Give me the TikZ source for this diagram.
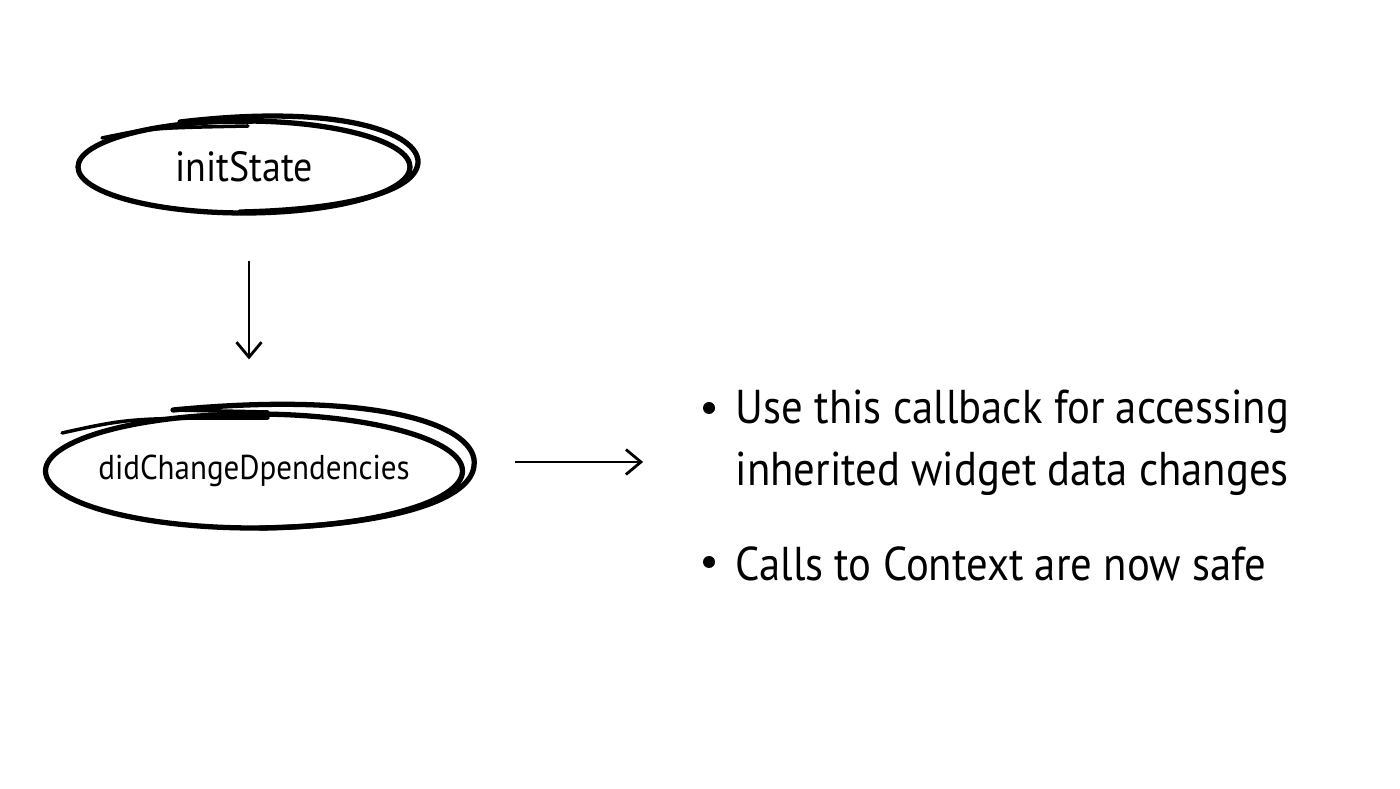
\documentclass[tikz,border=0pt]{standalone}
\usepackage{fontspec}
\setmainfont{PT Sans}[FakeStretch=0.9]
\usetikzlibrary{shapes.geometric,arrows.meta,positioning}

\tikzset{
    sketch/.style={line width=1.5pt, line cap=round},
    phase/.style={ellipse, draw, sketch, inner sep=0pt, label={[font=\fontsize{12}{14}\selectfont]center:#1}},
    flow/.style={line width=0.6pt, -{Straight Barb[length=1.5mm, width=2.5mm, line width=0.8pt]}},
    note/.style={anchor=base west, inner sep=0pt, font=\fontsize{13.5}{16}\selectfont}
}

\begin{document}
\begin{tikzpicture}
    \useasboundingbox (0, 0) rectangle (14, 7.88);

    % phases
    \node[phase=initState, minimum width=3.32cm, minimum height=0.92cm] (init) at (2.44, 6.21) {};
    \node[phase={\fontsize{9.8}{12}\selectfont didChangeDpendencies}, minimum width=4.17cm, minimum height=1.14cm] (deps) at (2.54, 3.17) {};

    % extra pen strokes
    \draw[sketch] (1.80, 6.66) .. controls (3.40, 6.85) and (4.20, 6.55) .. (4.18, 6.25)
        .. controls (4.15, 5.95) and (3.40, 5.78) .. (2.40, 5.76);
    \draw[sketch, line width=1pt] (1.80, 6.66) -- (2.52, 6.66);
    \draw[sketch, line width=1pt] (1.02, 6.50) .. controls (1.50, 6.60) .. (2.48, 6.62);
    \draw[sketch] (1.73, 3.78) .. controls (3.80, 3.98) and (4.80, 3.62) .. (4.74, 3.22)
        .. controls (4.70, 2.85) and (3.80, 2.62) .. (2.60, 2.60);
    \draw[sketch, line width=1pt] (1.73, 3.78) -- (2.68, 3.76);
    \draw[sketch, line width=1pt] (0.62, 3.55) .. controls (1.30, 3.70) .. (2.68, 3.70);

    % arrows
    \coordinate[below=0.45cm of init.south, xshift=0.05cm] (a1);
    \coordinate[above=0.52cm of deps.north, xshift=-0.05cm] (a2);
    \draw[flow] (a1) -- (a1 |- a2);
    \coordinate[right=0.50cm of deps.east, yshift=0.09cm] (b1);
    \coordinate[right=1.28cm of b1] (b2);
    \draw[flow] (b1) -- (b2);

    % notes
    \node[note] (n1) at (7.35, 3.64) {Use this callback for accessing};
    \node[note] (n2) at (7.35, 3.02) {inherited widget data changes};
    \node[note] (n3) at (7.35, 2.07) {Calls to Context are now safe};
    \fill (7.09, 3.80) circle (0.06);
    \fill (7.09, 2.26) circle (0.06);
\end{tikzpicture}
\end{document}
